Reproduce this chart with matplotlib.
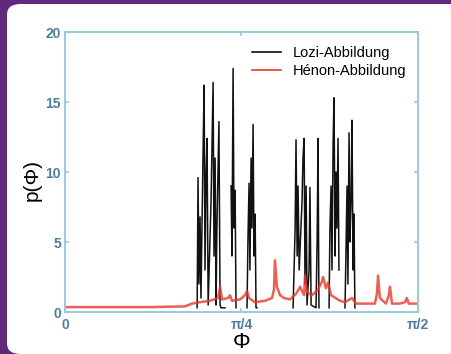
import numpy as np
import matplotlib.pyplot as plt
from matplotlib.patches import FancyBboxPatch

nan = np.nan

# Lozi-Abbildung: p(phi) (nan = gap between clusters)
lozi_phi = [0.588, 0.592, 0.596, 0.601, 0.605, 0.614, 0.619, 0.623, 0.628, 0.632, 0.637,
            0.650, 0.659, 0.663, 0.668, 0.672, 0.676, 0.685, 0.690, 0.694, 0.712, nan,
            0.739, 0.743, 0.748, 0.752, 0.757, 0.761, nan,
            0.810, 0.814, 0.819, 0.823, 0.828, 0.832, 0.837, 0.841, 0.846, 0.850, 0.854, nan,
            1.015, 1.024, 1.028, 1.033, 1.037, 1.042, 1.055, 1.059, 1.064, 1.068, 1.073, 1.077,
            1.086, 1.090, 1.095, 1.117, 1.122, 1.126, 1.130, nan,
            1.175, 1.179, 1.184, 1.188, 1.193, 1.197, 1.202, 1.206, 1.210, 1.215, 1.219, nan,
            1.246, 1.250, 1.255, 1.259, 1.264, 1.268, 1.273, 1.277, 1.282, 1.286, 1.290]
lozi_p = [0.3, 9.6, 2.0, 6.8, 1.0, 11.0, 16.2, 3.0, 10.0, 12.4, 0.5,
          8.0, 16.4, 4.0, 11.0, 0.5, 6.0, 13.6, 0.5, 0.3, 0.3, nan,
          9.0, 4.0, 17.4, 6.0, 8.7, 0.3, nan,
          0.3, 5.0, 9.2, 3.0, 11.0, 6.0, 13.4, 4.0, 7.0, 0.3, 0.3, nan,
          0.3, 6.0, 12.3, 4.0, 9.0, 3.0, 8.0, 11.0, 12.4, 2.0, 9.0, 0.5,
          3.0, 8.9, 0.5, 0.3, 5.0, 12.4, 0.3, nan,
          0.3, 6.0, 9.0, 3.0, 12.0, 15.3, 4.0, 10.0, 6.0, 12.4, 3.0, nan,
          0.3, 4.0, 9.0, 2.0, 12.8, 5.0, 8.0, 13.7, 3.0, 7.0, 0.3]

# Henon-Abbildung
henon_phi = [0.0, 0.156, 0.378, 0.534, 0.565, 0.601, 0.645, 0.681, 0.690, 0.699, 0.725,
             0.734, 0.743, 0.779, 0.801, 0.810, 0.819, 0.845, 0.890, 0.921, 0.930, 0.934,
             0.943, 0.957, 0.974, 1.001, 1.028, 1.046, 1.064, 1.068, 1.077, 1.099, 1.126,
             1.144, 1.148, 1.161, 1.170, 1.184, 1.224, 1.246, 1.277, 1.295, 1.335, 1.379,
             1.388, 1.393, 1.401, 1.428, 1.441, 1.446, 1.455, 1.490, 1.513, 1.521, 1.530, 1.571]
henon_p = [0.35, 0.35, 0.35, 0.4, 0.6, 0.7, 0.8, 1.0, 1.8, 0.9, 1.0,
           1.2, 0.8, 0.9, 1.2, 1.5, 1.0, 0.7, 0.8, 1.0, 1.6, 3.7,
           1.8, 1.2, 1.0, 0.9, 1.3, 1.8, 1.2, 2.6, 1.4, 1.2, 1.6,
           2.2, 2.5, 1.7, 2.1, 1.2, 0.8, 0.7, 1.0, 0.6, 0.6, 0.6,
           1.3, 2.6, 1.0, 0.6, 1.2, 1.8, 0.6, 0.6, 0.7, 1.0, 0.6, 0.6]

xticks = [0, np.pi / 4, np.pi / 2]
xticklabels = ['0', 'π/4', 'π/2']
yticks = [0, 5, 10, 15, 20]

spineColor = '#9cc8df'
tickColor = '#4f7f9e'

fig = plt.figure(figsize=(4.52, 3.54), dpi=100)
fig.patch.set_facecolor('#62287a')
panel = FancyBboxPatch((7 / 452, 0), 460 / 452, 350 / 354,
                       boxstyle='round,pad=0,rounding_size=0.03',
                       transform=fig.transFigure, facecolor='white',
                       edgecolor='none', zorder=-1)
fig.patches.append(panel)

ax = fig.add_axes([65 / 452, 1 - 312 / 354, 353 / 452, 280 / 354])
ax.set_zorder(2)
ax.set_facecolor('white')
ax.plot(lozi_phi, lozi_p, color='#111111', linewidth=1.1, label='Lozi-Abbildung')
ax.plot(henon_phi, henon_p, color='#e8382c', linewidth=1.8, alpha=0.8,
        label='Hénon-Abbildung')

ax.set_xlim(0, np.pi / 2)
ax.set_ylim(0, 20)
ax.set_xticks(xticks)
ax.set_xticklabels(xticklabels)
ax.set_yticks(yticks)
for s in ax.spines.values():
    s.set_color(spineColor)
    s.set_linewidth(1.4)
ax.tick_params(direction='in', length=3, width=1.2, color=spineColor,
               labelcolor=tickColor, labelsize=10, top=True, right=True, pad=3)
ax.tick_params(axis='x', pad=4)
for lab in ax.get_xticklabels() + ax.get_yticklabels():
    lab.set_family('Liberation Sans')
    lab.set_fontweight('bold')

leg = ax.legend(loc='upper right', frameon=False, handlelength=2.0,
                prop={'family': 'Liberation Sans', 'size': 10.5},
                borderaxespad=0.3, labelspacing=0.25, bbox_to_anchor=(0.995, 0.985))
for line in leg.get_lines():
    line.set_linewidth(1.2)
    line.set_alpha(1)

fig.text(32 / 452, 1 - 180 / 354, 'p(Φ)', rotation=90, fontsize=15,
         family='Liberation Sans', ha='center', va='center')
fig.text(242 / 452, 1 - 342 / 354, 'Φ', fontsize=16,
         family='Liberation Sans', ha='center', va='center')

fig.savefig('out.png', dpi=100, facecolor=fig.get_facecolor())
